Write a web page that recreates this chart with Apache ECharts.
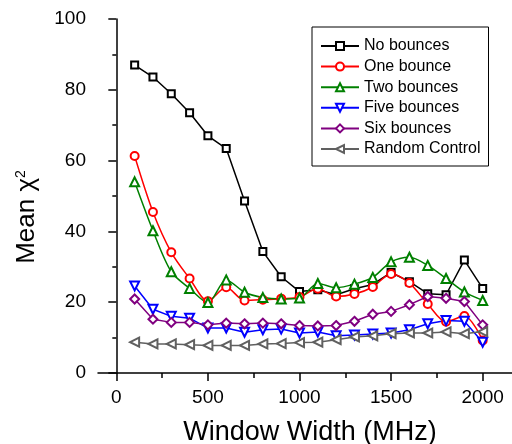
<!DOCTYPE html>
<html>
<head>
<meta charset="utf-8">
<script src="https://cdn.jsdelivr.net/npm/echarts@6/dist/echarts.min.js"></script>
<style>
  html, body { margin: 0; padding: 0; background: #fff; }
  #chart { width: 512px; height: 444px; }
</style>
</head>
<body>
<div id="chart"></div>
<script>
// window widths (MHz)
const widths = [100, 200, 300, 400, 500, 600, 700, 800, 900, 1000,
  1100, 1200, 1300, 1400, 1500, 1600, 1700, 1800, 1900, 2000]

const noBounces = [87.0, 83.6, 78.9, 73.5, 67.0, 63.4, 48.6, 34.3, 27.2, 23.0,
  23.5, 22.1, 23.8, 25.0, 28.4, 25.8, 22.4, 22.1, 31.9, 23.9]
const oneBounce = [61.3, 45.5, 34.1, 26.7, 20.3, 24.2, 20.5, 20.7, 21.0, 21.5,
  23.8, 21.6, 22.3, 24.3, 28.0, 25.4, 19.5, 14.5, 16.1, 9.2]
const twoBounces = [54.0, 40.2, 28.6, 23.9, 19.9, 26.3, 22.8, 21.3, 20.9, 21.2,
  25.3, 24.1, 25.1, 27.0, 31.4, 32.7, 30.4, 26.7, 22.9, 20.5]
const fiveBounces = [24.6, 18.0, 16.0, 15.5, 12.7, 12.7, 11.5, 12.2, 12.4, 11.3,
  11.6, 10.5, 10.7, 11.0, 11.3, 12.2, 13.9, 14.8, 14.6, 8.7]
const sixBounces = [20.9, 15.2, 14.3, 14.3, 13.6, 14.1, 13.9, 14.1, 13.9, 13.4,
  13.3, 13.4, 14.6, 16.6, 17.4, 19.3, 21.6, 21.1, 20.2, 13.6]
const randomControl = [8.7, 8.2, 8.2, 8.0, 7.8, 7.8, 7.8, 8.2, 8.3, 8.6,
  8.7, 9.4, 10.2, 10.5, 11.1, 11.3, 11.3, 11.6, 11.1, 11.7]

const xMajorTicks = [0, 500, 1000, 1500, 2000]
const xMinorTicks = [250, 750, 1250, 1750]

const FONT = 'Liberation Sans'

function pairs(values) {
  return widths.map((w, i) => [w, values[i]])
}

function makeSeries(name, values, color, symbol, size, rotate, smooth) {
  return {
    name: name,
    type: 'line',
    data: pairs(values),
    symbol: symbol,
    symbolSize: size,
    symbolRotate: rotate,
    smooth: smooth,
    showAllSymbol: true,
    lineStyle: { color: color, width: 1.5 },
    itemStyle: { color: color, borderWidth: 1.2 },
    animation: false
  }
}

const chart = echarts.init(document.getElementById('chart'))

chart.setOption({
  backgroundColor: '#fff',
  textStyle: { fontFamily: FONT },
  grid: { left: 98, right: 0, top: 19, bottom: 71, outerBoundsMode: 'none' },
  legend: {
    orient: 'vertical',
    left: 312,
    top: 27,
    padding: [11, 8, 9, 8],
    itemGap: 4.6,
    itemWidth: 38,
    itemHeight: 10,
    borderColor: '#000',
    borderWidth: 1,
    borderRadius: 0,
    textStyle: { fontFamily: FONT, fontSize: 16, color: '#000' }
  },
  // y title drawn as rotated rich text so the superscript sits like the original
  graphic: [{
    type: 'text',
    x: 27,
    y: 217,
    rotation: Math.PI / 2,
    style: {
      text: 'Mean χ{sup|2}',
      fontFamily: FONT,
      fontSize: 26,
      fill: '#000',
      align: 'center',
      verticalAlign: 'middle',
      rich: {
        sup: { fontFamily: FONT, fontSize: 14, fill: '#000', verticalAlign: 'top' }
      }
    }
  }],
  xAxis: [
    {
      type: 'value',
      min: -100,
      max: 2160,
      name: 'Window Width (MHz)',
      nameLocation: 'middle',
      nameGap: 46,
      nameTextStyle: { fontFamily: FONT, fontSize: 27, color: '#000', padding: [0, 0, 0, 10] },
      axisLine: { onZero: false, lineStyle: { color: '#000', width: 1.5 } },
      axisTick: { customValues: xMajorTicks, inside: false, length: 8, lineStyle: { color: '#000', width: 1.5 } },
      axisLabel: {
        customValues: xMajorTicks,
        formatter: v => String(v),
        margin: 15,
        fontFamily: FONT,
        fontSize: 19,
        color: '#000'
      },
      splitLine: { show: false }
    },
    {
      type: 'value',
      min: -100,
      max: 2160,
      position: 'bottom',
      axisLine: { show: false },
      axisTick: { customValues: xMinorTicks, inside: false, length: 5, lineStyle: { color: '#000', width: 1.5 } },
      axisLabel: { show: false },
      splitLine: { show: false }
    }
  ],
  yAxis: {
    type: 'value',
    min: 0,
    max: 100,
    interval: 20,
    axisLine: { show: true, lineStyle: { color: '#000', width: 1.5 } },
    axisTick: { show: true, inside: false, length: 8, lineStyle: { color: '#000', width: 1.5 } },
    minorTick: { show: true, splitNumber: 2, length: 4, lineStyle: { color: '#000', width: 1.5 } },
    axisLabel: { margin: 12, fontFamily: FONT, fontSize: 19, color: '#000' },
    splitLine: { show: false }
  },
  series: [
    makeSeries('No bounces', noBounces, '#000000', 'emptyRect', 7, 0, false),
    makeSeries('One bounce', oneBounce, '#ff0000', 'emptyCircle', 8, 0, 0.3),
    makeSeries('Two bounces', twoBounces, '#008000', 'emptyTriangle', 9, 0, 0.3),
    makeSeries('Five bounces', fiveBounces, '#0000ff', 'emptyTriangle', 9, 180, false),
    makeSeries('Six bounces', sixBounces, '#800080', 'emptyDiamond', 9, 0, false),
    makeSeries('Random Control', randomControl, '#606060', 'emptyTriangle', 9, 90, false)
  ]
})
</script>
</body>
</html>
